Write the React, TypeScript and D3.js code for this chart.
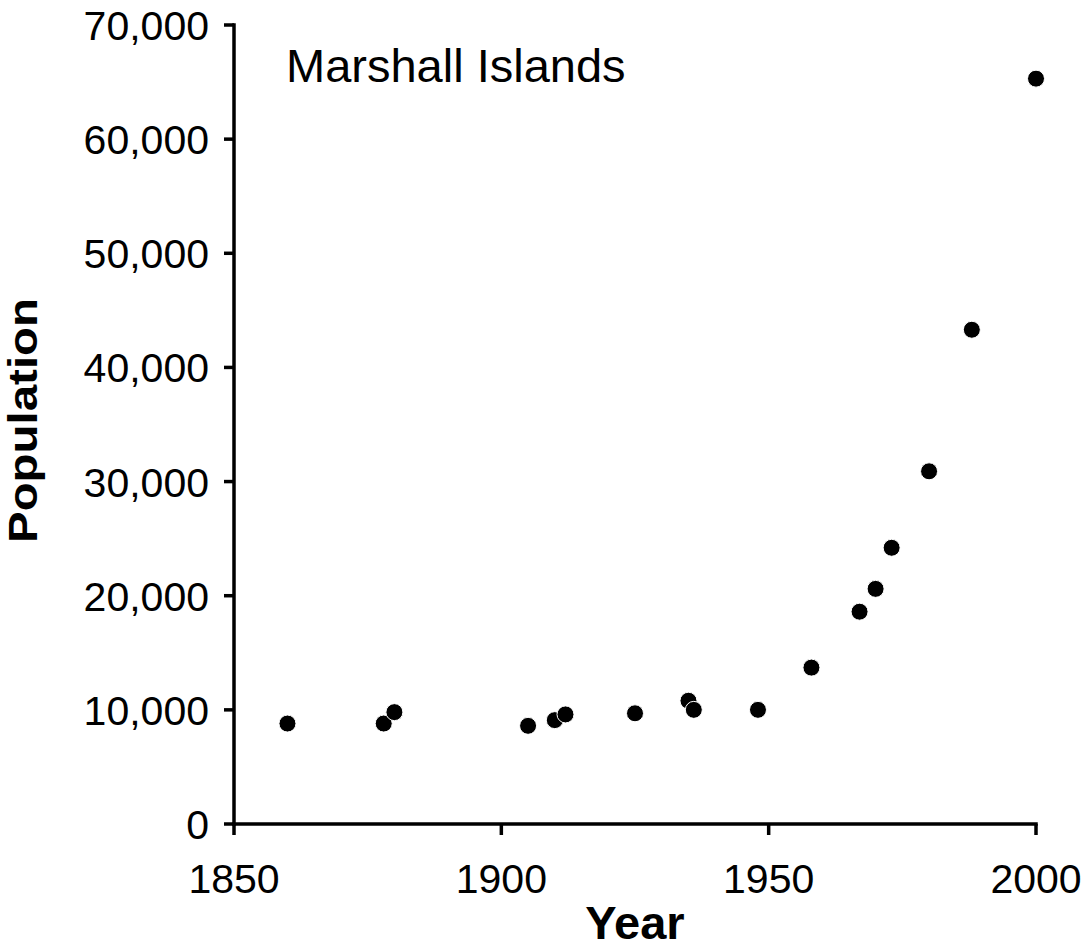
import React from "react";
import * as d3 from "d3";

const years = [1860, 1878, 1880, 1905, 1910, 1912, 1925, 1935, 1936, 1948, 1958, 1967, 1970, 1973, 1980, 1988, 2000];
const population = [8800, 8800, 9800, 8600, 9100, 9600, 9700, 10800, 10000, 10000, 13700, 18600, 20600, 24200, 30900, 43300, 65300];
const xTicks = [1850, 1900, 1950, 2000];
const yTicks = [0, 10000, 20000, 30000, 40000, 50000, 60000, 70000];
const title = "Marshall Islands";
const xTitle = "Year";
const yTitle = "Population";

const W = 1090;
const H = 950;
const left = 234;
const right = 1036;
const top = 25;
const bottom = 824;
const font = "'Liberation Sans', Arial, Helvetica, sans-serif";

export default function App() {
  const x = d3.scaleLinear().domain([1850, 2000]).range([left, right]);
  const y = d3.scaleLinear().domain([0, 70000]).range([bottom, top]);
  const fmt = d3.format(",");
  const data = years.map((yr, i) => ({ yr, p: population[i] }));
  return (
    <svg width={W} height={H} style={{ position: "absolute", left: 0, top: 0, background: "#fff" }}>
      <rect width={W} height={H} fill="#fff" />
      {/* axes */}
      <line x1={left} x2={left} y1={y(70000)} y2={y(0)} stroke="#000" strokeWidth={3.5} strokeLinecap="square" />
      <line x1={x(1850)} x2={x(2000)} y1={bottom} y2={bottom} stroke="#000" strokeWidth={3.5} strokeLinecap="square" />
      {yTicks.map((t) => (
        <g key={"y" + t}>
          <line x1={left - 10} x2={left} y1={y(t)} y2={y(t)} stroke="#000" strokeWidth={3.5} />
          <text x={left - 25} y={y(t)} dy={15} textAnchor="end" fontFamily={font} fontSize={41} fill="#000">
            {fmt(t)}
          </text>
        </g>
      ))}
      {xTicks.map((t) => (
        <g key={"x" + t}>
          <line x1={x(t)} x2={x(t)} y1={bottom} y2={bottom + 11} stroke="#000" strokeWidth={3.5} />
          <text x={x(t)} y={893} textAnchor="middle" fontFamily={font} fontSize={41} fill="#000">
            {String(t)}
          </text>
        </g>
      ))}
      <text x={(left + right) / 2} y={939} textAnchor="middle" fontFamily={font} fontSize={47} fontWeight="bold" fill="#000">
        {xTitle}
      </text>
      <text
        transform={`translate(37, ${(298 + 543) / 2}) rotate(-90)`}
        textAnchor="middle"
        fontFamily={font}
        fontSize={41}
        fontWeight="bold"
        textLength={245}
        lengthAdjust="spacingAndGlyphs"
        fill="#000"
      >
        {yTitle}
      </text>
      <text x={286} y={82} fontFamily={font} fontSize={47} fill="#000">
        {title}
      </text>
      {data.map((d, i) => (
        <circle key={i} cx={x(d.yr)} cy={y(d.p)} r={8.5} fill="#000" stroke="#fff" strokeWidth={1} />
      ))}
    </svg>
  );
}
